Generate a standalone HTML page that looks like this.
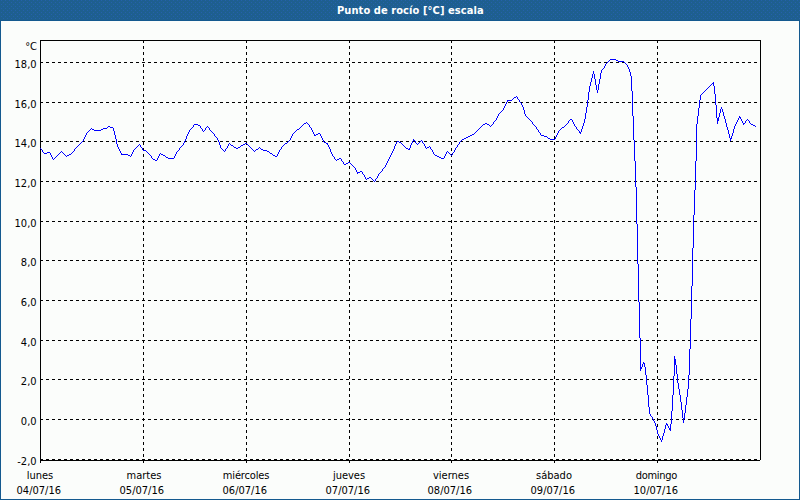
<!DOCTYPE html>
<html><head><meta charset="utf-8"><title>Punto de rocío</title>
<style>
html,body{margin:0;padding:0;}
body{width:800px;height:500px;overflow:hidden;background:#fbfdfb;position:relative;font-family:"DejaVu Sans Condensed", "DejaVu Sans", sans-serif;}
#ttl{position:absolute;left:337px;top:4px;letter-spacing:0.08px;color:#fff;font-weight:bold;font-size:11.0px;line-height:14px;white-space:nowrap;}
#bl{position:absolute;left:0;top:21px;width:1px;height:479px;background:#14598f;}
#br{position:absolute;left:799px;top:21px;width:1px;height:479px;background:#14598f;}
#bb{position:absolute;left:0;top:499px;width:800px;height:1px;background:#14598f;}
svg{position:absolute;left:0;top:0;}
svg text{font-family:"DejaVu Sans Condensed", "DejaVu Sans", sans-serif;font-size:11.0px;fill:#000;}
</style></head><body>
<svg id="hdrs" width="800" height="21" style="position:absolute;left:0;top:0"><defs><pattern id="dp" width="4" height="4" patternUnits="userSpaceOnUse"><rect width="4" height="4" fill="#1e5f8f"/><rect x="1" y="0" width="1" height="1" fill="#2561ac"/><rect x="3" y="2" width="1" height="1" fill="#2561ac"/></pattern></defs><rect width="800" height="20" fill="url(#dp)"/><rect y="20" width="800" height="1" fill="#14598f"/></svg><div id="ttl">Punto de rocío [°C] escala</div>
<svg width="800" height="500" viewBox="0 0 800 500">
<g shape-rendering="crispEdges">
<line x1="40" y1="62.5" x2="760" y2="62.5" stroke="#000" stroke-dasharray="3 3"/>
<line x1="40" y1="102.5" x2="760" y2="102.5" stroke="#000" stroke-dasharray="3 3"/>
<line x1="40" y1="141.5" x2="760" y2="141.5" stroke="#000" stroke-dasharray="3 3"/>
<line x1="40" y1="181.5" x2="760" y2="181.5" stroke="#000" stroke-dasharray="3 3"/>
<line x1="40" y1="221.5" x2="760" y2="221.5" stroke="#000" stroke-dasharray="3 3"/>
<line x1="40" y1="260.5" x2="760" y2="260.5" stroke="#000" stroke-dasharray="3 3"/>
<line x1="40" y1="300.5" x2="760" y2="300.5" stroke="#000" stroke-dasharray="3 3"/>
<line x1="40" y1="340.5" x2="760" y2="340.5" stroke="#000" stroke-dasharray="3 3"/>
<line x1="40" y1="379.5" x2="760" y2="379.5" stroke="#000" stroke-dasharray="3 3"/>
<line x1="40" y1="419.5" x2="760" y2="419.5" stroke="#000" stroke-dasharray="3 3"/>
<line x1="40" y1="459.5" x2="760" y2="459.5" stroke="#000" stroke-dasharray="3 3"/>
<line x1="143.5" y1="40" x2="143.5" y2="463" stroke="#000" stroke-dasharray="3 3"/>
<line x1="246.5" y1="40" x2="246.5" y2="463" stroke="#000" stroke-dasharray="3 3"/>
<line x1="349.5" y1="40" x2="349.5" y2="463" stroke="#000" stroke-dasharray="3 3"/>
<line x1="451.5" y1="40" x2="451.5" y2="463" stroke="#000" stroke-dasharray="3 3"/>
<line x1="554.5" y1="40" x2="554.5" y2="463" stroke="#000" stroke-dasharray="3 3"/>
<line x1="657.5" y1="40" x2="657.5" y2="463" stroke="#000" stroke-dasharray="3 3"/>
<path d="M40.5 463V40.5H760.5V460M40 460.5H760" fill="none" stroke="#000"/>
</g>
<path d="M610 59.5h6M609 60.5h1M616 60.5h2M608 61.5h1M618 61.5h6M607 62.5h1M624 62.5h1M606 63.5h1M625 63.5h1M605 64.5h1M626 64.5h1M605 65.5h1M627 65.5h1M604 66.5h1M627 66.5h1M604 67.5h1M628 67.5h1M603 68.5h1M628 68.5h1M602 69.5h1M629 69.5h1M601 70.5h1M629 70.5h1M593 71.5h1M601 71.5h1M629 71.5h1M593 72.5h1M601 72.5h1M630 72.5h1M593 73.5h1M600 73.5h1M630 73.5h1M592 74.5h1M594 74.5h1M600 74.5h1M630 74.5h1M592 75.5h1M594 75.5h1M600 75.5h1M630 75.5h1M592 76.5h1M594 76.5h1M600 76.5h1M631 76.5h1M592 77.5h1M594 77.5h1M600 77.5h1M631 77.5h1M591 78.5h1M594 78.5h1M600 78.5h1M631 78.5h1M591 79.5h1M595 79.5h1M599 79.5h1M631 79.5h1M591 80.5h1M595 80.5h1M599 80.5h1M631 80.5h1M591 81.5h1M595 81.5h1M599 81.5h1M631 81.5h1M590 82.5h1M595 82.5h1M599 82.5h1M631 82.5h1M713 82.5h1M590 83.5h1M595 83.5h1M599 83.5h1M631 83.5h1M712 83.5h2M590 84.5h1M595 84.5h1M598 84.5h1M631 84.5h1M711 84.5h1M713 84.5h1M590 85.5h1M596 85.5h1M598 85.5h1M631 85.5h1M710 85.5h1M713 85.5h1M589 86.5h1M596 86.5h1M598 86.5h1M631 86.5h1M709 86.5h1M714 86.5h1M589 87.5h1M596 87.5h1M598 87.5h1M631 87.5h1M708 87.5h1M714 87.5h1M589 88.5h1M596 88.5h1M598 88.5h1M631 88.5h1M707 88.5h1M714 88.5h1M589 89.5h1M596 89.5h1M598 89.5h1M631 89.5h1M706 89.5h1M714 89.5h1M589 90.5h1M597 90.5h1M631 90.5h1M705 90.5h1M714 90.5h1M589 91.5h1M597 91.5h1M632 91.5h1M704 91.5h1M714 91.5h1M588 92.5h1M597 92.5h1M632 92.5h1M703 92.5h1M714 92.5h1M588 93.5h1M632 93.5h1M702 93.5h1M714 93.5h1M588 94.5h1M632 94.5h1M701 94.5h1M715 94.5h1M588 95.5h1M632 95.5h1M700 95.5h1M715 95.5h1M516 96.5h1M588 96.5h1M632 96.5h1M700 96.5h1M715 96.5h1M514 97.5h2M517 97.5h1M588 97.5h1M632 97.5h1M700 97.5h1M715 97.5h1M513 98.5h1M517 98.5h1M588 98.5h1M632 98.5h1M700 98.5h1M715 98.5h1M512 99.5h1M518 99.5h1M588 99.5h1M632 99.5h1M700 99.5h1M715 99.5h1M507 100.5h5M519 100.5h1M587 100.5h1M632 100.5h1M699 100.5h1M715 100.5h1M507 101.5h1M519 101.5h1M587 101.5h1M632 101.5h1M699 101.5h1M715 101.5h1M506 102.5h1M520 102.5h1M587 102.5h1M632 102.5h1M699 102.5h1M715 102.5h1M506 103.5h1M521 103.5h1M587 103.5h1M632 103.5h1M699 103.5h1M715 103.5h1M505 104.5h1M521 104.5h1M587 104.5h1M632 104.5h1M699 104.5h1M715 104.5h1M505 105.5h1M522 105.5h1M587 105.5h1M632 105.5h1M699 105.5h1M716 105.5h1M504 106.5h1M522 106.5h1M587 106.5h1M632 106.5h1M699 106.5h1M716 106.5h1M504 107.5h1M523 107.5h1M586 107.5h1M632 107.5h1M699 107.5h1M716 107.5h1M721 107.5h1M503 108.5h1M523 108.5h1M586 108.5h1M632 108.5h1M698 108.5h1M716 108.5h1M721 108.5h1M503 109.5h1M523 109.5h1M586 109.5h1M632 109.5h1M698 109.5h1M716 109.5h1M720 109.5h1M722 109.5h1M502 110.5h1M524 110.5h1M586 110.5h1M632 110.5h1M698 110.5h1M716 110.5h1M720 110.5h1M722 110.5h1M501 111.5h1M524 111.5h1M586 111.5h1M632 111.5h1M698 111.5h1M716 111.5h1M720 111.5h1M722 111.5h1M500 112.5h1M524 112.5h1M586 112.5h1M632 112.5h1M698 112.5h1M716 112.5h1M720 112.5h1M723 112.5h1M499 113.5h1M524 113.5h1M585 113.5h1M632 113.5h1M698 113.5h1M716 113.5h1M719 113.5h1M723 113.5h1M498 114.5h1M525 114.5h1M585 114.5h1M632 114.5h1M698 114.5h1M716 114.5h1M719 114.5h1M723 114.5h1M498 115.5h1M525 115.5h1M585 115.5h1M632 115.5h1M698 115.5h1M716 115.5h1M719 115.5h1M723 115.5h1M497 116.5h1M526 116.5h1M585 116.5h1M633 116.5h1M697 116.5h1M716 116.5h1M719 116.5h1M724 116.5h1M739 116.5h1M497 117.5h1M527 117.5h1M585 117.5h1M633 117.5h1M697 117.5h1M716 117.5h1M718 117.5h1M724 117.5h1M739 117.5h2M496 118.5h1M528 118.5h1M585 118.5h1M633 118.5h1M697 118.5h1M717 118.5h2M724 118.5h1M738 118.5h1M740 118.5h1M496 119.5h1M529 119.5h1M570 119.5h2M584 119.5h1M633 119.5h1M697 119.5h1M717 119.5h2M725 119.5h1M738 119.5h1M741 119.5h1M747 119.5h1M495 120.5h1M530 120.5h1M569 120.5h1M572 120.5h1M584 120.5h1M633 120.5h1M697 120.5h1M717 120.5h2M725 120.5h1M737 120.5h1M741 120.5h1M746 120.5h1M748 120.5h1M494 121.5h1M531 121.5h1M568 121.5h1M572 121.5h1M584 121.5h1M633 121.5h1M697 121.5h1M717 121.5h1M725 121.5h1M737 121.5h1M742 121.5h1M745 121.5h1M749 121.5h1M306 122.5h1M493 122.5h1M532 122.5h1M568 122.5h1M573 122.5h1M584 122.5h1M633 122.5h1M697 122.5h1M717 122.5h1M725 122.5h1M736 122.5h1M742 122.5h1M745 122.5h1M749 122.5h1M304 123.5h2M307 123.5h1M485 123.5h2M493 123.5h1M532 123.5h1M567 123.5h1M573 123.5h1M583 123.5h1M633 123.5h1M697 123.5h1M717 123.5h1M726 123.5h1M736 123.5h1M743 123.5h2M750 123.5h1M194 124.5h4M303 124.5h1M308 124.5h1M483 124.5h2M487 124.5h2M492 124.5h1M533 124.5h1M566 124.5h1M574 124.5h1M583 124.5h1M633 124.5h1M696 124.5h1M726 124.5h1M735 124.5h1M743 124.5h1M751 124.5h2M193 125.5h1M198 125.5h2M302 125.5h1M309 125.5h1M482 125.5h1M489 125.5h1M491 125.5h1M534 125.5h1M565 125.5h1M574 125.5h1M583 125.5h1M633 125.5h1M696 125.5h1M726 125.5h1M735 125.5h1M753 125.5h2M108 126.5h2M193 126.5h1M200 126.5h1M207 126.5h1M301 126.5h1M309 126.5h1M481 126.5h1M490 126.5h1M535 126.5h1M564 126.5h1M575 126.5h1M582 126.5h1M633 126.5h1M696 126.5h1M726 126.5h1M734 126.5h1M755 126.5h1M107 127.5h1M110 127.5h3M192 127.5h1M200 127.5h1M206 127.5h1M208 127.5h1M300 127.5h1M310 127.5h1M480 127.5h1M536 127.5h1M562 127.5h2M576 127.5h1M582 127.5h1M633 127.5h1M696 127.5h1M727 127.5h1M734 127.5h1M91 128.5h1M103 128.5h4M113 128.5h1M191 128.5h1M201 128.5h1M205 128.5h1M209 128.5h1M299 128.5h1M311 128.5h1M479 128.5h1M536 128.5h1M561 128.5h1M576 128.5h1M582 128.5h1M633 128.5h1M696 128.5h1M727 128.5h1M734 128.5h1M90 129.5h1M92 129.5h2M101 129.5h2M113 129.5h1M190 129.5h1M202 129.5h1M205 129.5h1M209 129.5h1M297 129.5h2M311 129.5h1M478 129.5h1M537 129.5h1M560 129.5h1M577 129.5h1M581 129.5h1M633 129.5h1M696 129.5h1M727 129.5h1M733 129.5h1M89 130.5h1M94 130.5h7M113 130.5h1M189 130.5h1M202 130.5h1M204 130.5h1M210 130.5h1M296 130.5h1M312 130.5h1M477 130.5h1M538 130.5h1M559 130.5h1M578 130.5h1M581 130.5h1M633 130.5h1M696 130.5h1M728 130.5h1M733 130.5h1M88 131.5h1M114 131.5h1M189 131.5h1M203 131.5h1M211 131.5h1M295 131.5h1M312 131.5h1M476 131.5h1M538 131.5h1M558 131.5h1M579 131.5h1M581 131.5h1M633 131.5h1M696 131.5h1M728 131.5h1M733 131.5h1M87 132.5h1M114 132.5h1M188 132.5h1M212 132.5h1M294 132.5h1M313 132.5h1M475 132.5h1M539 132.5h1M558 132.5h1M579 132.5h2M633 132.5h1M696 132.5h1M728 132.5h1M733 132.5h1M86 133.5h1M114 133.5h1M188 133.5h1M213 133.5h1M293 133.5h1M313 133.5h1M318 133.5h2M474 133.5h1M540 133.5h1M557 133.5h1M580 133.5h1M633 133.5h1M696 133.5h1M728 133.5h1M732 133.5h1M86 134.5h1M114 134.5h1M187 134.5h1M214 134.5h1M292 134.5h1M314 134.5h1M316 134.5h2M320 134.5h1M472 134.5h2M540 134.5h1M557 134.5h1M633 134.5h1M696 134.5h1M729 134.5h1M732 134.5h1M85 135.5h1M115 135.5h1M187 135.5h1M214 135.5h1M292 135.5h1M314 135.5h2M320 135.5h1M470 135.5h2M541 135.5h3M556 135.5h1M633 135.5h1M696 135.5h1M729 135.5h1M732 135.5h1M85 136.5h1M115 136.5h1M186 136.5h1M215 136.5h1M291 136.5h1M321 136.5h1M468 136.5h2M544 136.5h3M556 136.5h1M633 136.5h1M696 136.5h1M729 136.5h1M731 136.5h1M84 137.5h1M115 137.5h1M186 137.5h1M216 137.5h1M291 137.5h1M321 137.5h1M466 137.5h2M547 137.5h1M555 137.5h1M633 137.5h1M696 137.5h1M729 137.5h1M731 137.5h1M84 138.5h1M115 138.5h1M186 138.5h1M217 138.5h1M290 138.5h1M322 138.5h1M464 138.5h2M548 138.5h2M555 138.5h1M633 138.5h1M696 138.5h1M730 138.5h2M83 139.5h1M116 139.5h1M185 139.5h1M217 139.5h1M290 139.5h1M322 139.5h1M413 139.5h1M462 139.5h2M550 139.5h5M633 139.5h1M696 139.5h1M730 139.5h1M83 140.5h1M116 140.5h1M185 140.5h1M218 140.5h1M289 140.5h1M323 140.5h1M413 140.5h2M421 140.5h1M461 140.5h1M634 140.5h1M696 140.5h1M730 140.5h1M82 141.5h1M116 141.5h1M184 141.5h1M218 141.5h1M288 141.5h1M323 141.5h1M397 141.5h2M412 141.5h1M415 141.5h1M420 141.5h1M422 141.5h1M460 141.5h1M634 141.5h1M696 141.5h1M81 142.5h1M116 142.5h1M184 142.5h1M219 142.5h1M287 142.5h1M324 142.5h2M396 142.5h1M399 142.5h2M412 142.5h1M415 142.5h1M419 142.5h1M422 142.5h1M459 142.5h1M634 142.5h1M696 142.5h1M80 143.5h1M116 143.5h1M183 143.5h1M219 143.5h1M229 143.5h1M245 143.5h2M285 143.5h2M326 143.5h2M396 143.5h1M401 143.5h1M411 143.5h1M416 143.5h1M418 143.5h1M423 143.5h1M459 143.5h1M634 143.5h1M696 143.5h1M79 144.5h1M117 144.5h1M139 144.5h1M183 144.5h1M219 144.5h1M228 144.5h1M230 144.5h1M243 144.5h2M247 144.5h1M284 144.5h1M327 144.5h1M395 144.5h1M402 144.5h1M411 144.5h1M417 144.5h1M424 144.5h1M458 144.5h1M634 144.5h1M696 144.5h1M78 145.5h1M117 145.5h1M138 145.5h1M140 145.5h1M182 145.5h1M220 145.5h1M228 145.5h1M231 145.5h2M241 145.5h2M248 145.5h1M283 145.5h1M328 145.5h1M395 145.5h1M403 145.5h1M410 145.5h1M424 145.5h1M457 145.5h1M634 145.5h1M696 145.5h1M77 146.5h1M117 146.5h1M137 146.5h1M140 146.5h1M181 146.5h1M220 146.5h1M227 146.5h1M233 146.5h1M240 146.5h1M249 146.5h1M282 146.5h1M328 146.5h1M394 146.5h1M404 146.5h1M410 146.5h1M425 146.5h1M429 146.5h1M457 146.5h1M634 146.5h1M696 146.5h1M76 147.5h1M118 147.5h1M136 147.5h1M141 147.5h1M180 147.5h1M220 147.5h1M227 147.5h1M234 147.5h2M238 147.5h2M250 147.5h1M259 147.5h1M281 147.5h1M329 147.5h1M394 147.5h1M405 147.5h1M410 147.5h1M425 147.5h1M427 147.5h2M430 147.5h1M456 147.5h1M634 147.5h1M696 147.5h1M40 148.5h1M75 148.5h1M118 148.5h1M135 148.5h1M142 148.5h1M179 148.5h1M221 148.5h1M226 148.5h1M236 148.5h2M251 148.5h1M258 148.5h1M260 148.5h1M281 148.5h1M329 148.5h1M394 148.5h1M406 148.5h2M409 148.5h1M426 148.5h1M430 148.5h1M455 148.5h1M634 148.5h1M696 148.5h1M41 149.5h1M74 149.5h1M119 149.5h1M134 149.5h1M142 149.5h1M179 149.5h1M222 149.5h1M225 149.5h1M252 149.5h1M256 149.5h2M261 149.5h2M280 149.5h1M330 149.5h1M393 149.5h1M408 149.5h2M431 149.5h1M455 149.5h1M634 149.5h1M696 149.5h1M42 150.5h1M74 150.5h1M119 150.5h1M133 150.5h1M143 150.5h3M178 150.5h1M223 150.5h1M225 150.5h1M253 150.5h1M255 150.5h1M263 150.5h4M279 150.5h1M330 150.5h1M393 150.5h1M432 150.5h1M454 150.5h1M634 150.5h1M696 150.5h1M42 151.5h1M61 151.5h1M73 151.5h1M120 151.5h1M133 151.5h1M146 151.5h1M177 151.5h1M224 151.5h1M254 151.5h1M267 151.5h2M279 151.5h1M330 151.5h1M392 151.5h1M432 151.5h1M447 151.5h1M454 151.5h1M634 151.5h1M696 151.5h1M43 152.5h1M47 152.5h3M60 152.5h1M62 152.5h1M72 152.5h1M120 152.5h1M132 152.5h1M147 152.5h1M176 152.5h1M269 152.5h1M278 152.5h1M331 152.5h1M392 152.5h1M433 152.5h1M446 152.5h1M448 152.5h1M453 152.5h1M634 152.5h1M696 152.5h1M44 153.5h3M50 153.5h1M59 153.5h1M63 153.5h1M71 153.5h1M121 153.5h1M132 153.5h1M148 153.5h1M160 153.5h1M176 153.5h1M270 153.5h2M278 153.5h1M331 153.5h1M391 153.5h1M433 153.5h1M446 153.5h1M449 153.5h1M452 153.5h1M634 153.5h1M696 153.5h1M50 154.5h1M58 154.5h1M64 154.5h1M69 154.5h2M121 154.5h7M131 154.5h1M149 154.5h1M159 154.5h1M161 154.5h2M175 154.5h1M272 154.5h1M277 154.5h1M332 154.5h1M391 154.5h1M434 154.5h1M445 154.5h1M450 154.5h1M452 154.5h1M634 154.5h1M696 154.5h1M51 155.5h1M57 155.5h1M65 155.5h1M67 155.5h2M128 155.5h2M131 155.5h1M150 155.5h1M159 155.5h1M163 155.5h2M175 155.5h1M273 155.5h2M277 155.5h1M332 155.5h1M390 155.5h1M435 155.5h2M445 155.5h1M451 155.5h1M634 155.5h1M696 155.5h1M51 156.5h1M56 156.5h1M66 156.5h1M130 156.5h1M151 156.5h1M158 156.5h1M165 156.5h1M174 156.5h1M275 156.5h2M333 156.5h1M390 156.5h1M437 156.5h2M444 156.5h1M634 156.5h1M696 156.5h1M52 157.5h1M55 157.5h1M151 157.5h1M158 157.5h1M166 157.5h2M174 157.5h1M334 157.5h1M389 157.5h1M439 157.5h2M444 157.5h1M634 157.5h1M696 157.5h1M52 158.5h1M54 158.5h1M152 158.5h1M157 158.5h1M168 158.5h6M334 158.5h1M339 158.5h2M389 158.5h1M441 158.5h3M634 158.5h1M696 158.5h1M53 159.5h1M153 159.5h2M157 159.5h1M335 159.5h1M337 159.5h2M341 159.5h1M388 159.5h1M634 159.5h1M696 159.5h1M155 160.5h2M336 160.5h1M341 160.5h1M388 160.5h1M634 160.5h1M696 160.5h1M342 161.5h1M387 161.5h1M635 161.5h1M695 161.5h1M343 162.5h1M348 162.5h2M387 162.5h1M635 162.5h1M695 162.5h1M343 163.5h1M346 163.5h2M350 163.5h1M386 163.5h1M635 163.5h1M695 163.5h1M344 164.5h2M351 164.5h1M386 164.5h1M635 164.5h1M695 164.5h1M352 165.5h1M385 165.5h1M635 165.5h1M695 165.5h1M353 166.5h1M385 166.5h1M635 166.5h1M695 166.5h1M354 167.5h1M384 167.5h1M635 167.5h1M695 167.5h1M355 168.5h1M383 168.5h1M635 168.5h1M695 168.5h1M355 169.5h1M382 169.5h1M635 169.5h1M695 169.5h1M356 170.5h1M382 170.5h1M635 170.5h1M695 170.5h1M356 171.5h1M360 171.5h2M381 171.5h1M635 171.5h1M695 171.5h1M357 172.5h3M362 172.5h1M380 172.5h1M635 172.5h1M695 172.5h1M357 173.5h1M362 173.5h1M379 173.5h1M635 173.5h1M695 173.5h1M363 174.5h1M378 174.5h1M635 174.5h1M695 174.5h1M364 175.5h1M378 175.5h1M635 175.5h1M695 175.5h1M364 176.5h1M377 176.5h1M635 176.5h1M695 176.5h1M365 177.5h1M369 177.5h2M377 177.5h1M635 177.5h1M695 177.5h1M365 178.5h1M367 178.5h2M371 178.5h1M376 178.5h1M635 178.5h1M695 178.5h1M366 179.5h1M372 179.5h1M375 179.5h1M635 179.5h1M695 179.5h1M373 180.5h1M375 180.5h1M635 180.5h1M695 180.5h1M374 181.5h1M635 181.5h1M695 181.5h1M635 182.5h1M695 182.5h1M635 183.5h1M695 183.5h1M635 184.5h1M695 184.5h1M635 185.5h1M695 185.5h1M635 186.5h1M695 186.5h1M636 187.5h1M695 187.5h1M636 188.5h1M695 188.5h1M636 189.5h1M695 189.5h1M636 190.5h1M694 190.5h1M636 191.5h1M694 191.5h1M636 192.5h1M694 192.5h1M636 193.5h1M694 193.5h1M636 194.5h1M694 194.5h1M636 195.5h1M694 195.5h1M636 196.5h1M694 196.5h1M636 197.5h1M694 197.5h1M636 198.5h1M694 198.5h1M636 199.5h1M694 199.5h1M636 200.5h1M694 200.5h1M636 201.5h1M694 201.5h1M636 202.5h1M694 202.5h1M636 203.5h1M694 203.5h1M636 204.5h1M694 204.5h1M636 205.5h1M694 205.5h1M636 206.5h1M694 206.5h1M636 207.5h1M694 207.5h1M636 208.5h1M694 208.5h1M636 209.5h1M694 209.5h1M636 210.5h1M694 210.5h1M636 211.5h1M694 211.5h1M636 212.5h1M694 212.5h1M636 213.5h1M694 213.5h1M636 214.5h1M694 214.5h1M636 215.5h1M693 215.5h1M636 216.5h1M693 216.5h1M636 217.5h1M693 217.5h1M636 218.5h1M693 218.5h1M636 219.5h1M693 219.5h1M636 220.5h1M693 220.5h1M636 221.5h1M693 221.5h1M636 222.5h1M693 222.5h1M636 223.5h1M693 223.5h1M637 224.5h1M693 224.5h1M637 225.5h1M693 225.5h1M637 226.5h1M693 226.5h1M637 227.5h1M693 227.5h1M637 228.5h1M693 228.5h1M637 229.5h1M693 229.5h1M637 230.5h1M693 230.5h1M637 231.5h1M693 231.5h1M637 232.5h1M693 232.5h1M637 233.5h1M693 233.5h1M637 234.5h1M693 234.5h1M637 235.5h1M693 235.5h1M637 236.5h1M693 236.5h1M637 237.5h1M693 237.5h1M637 238.5h1M693 238.5h1M637 239.5h1M693 239.5h1M637 240.5h1M693 240.5h1M637 241.5h1M693 241.5h1M637 242.5h1M693 242.5h1M637 243.5h1M693 243.5h1M637 244.5h1M693 244.5h1M637 245.5h1M693 245.5h1M637 246.5h1M693 246.5h1M637 247.5h1M693 247.5h1M637 248.5h1M692 248.5h1M637 249.5h1M692 249.5h1M637 250.5h1M692 250.5h1M637 251.5h1M692 251.5h1M637 252.5h1M692 252.5h1M637 253.5h1M692 253.5h1M637 254.5h1M692 254.5h1M637 255.5h1M692 255.5h1M637 256.5h1M692 256.5h1M637 257.5h1M692 257.5h1M637 258.5h1M692 258.5h1M637 259.5h1M692 259.5h1M637 260.5h1M692 260.5h1M637 261.5h1M692 261.5h1M637 262.5h1M692 262.5h1M637 263.5h1M692 263.5h1M638 264.5h1M692 264.5h1M638 265.5h1M692 265.5h1M638 266.5h1M692 266.5h1M638 267.5h1M692 267.5h1M638 268.5h1M692 268.5h1M638 269.5h1M692 269.5h1M638 270.5h1M692 270.5h1M638 271.5h1M692 271.5h1M638 272.5h1M692 272.5h1M638 273.5h1M692 273.5h1M638 274.5h1M692 274.5h1M638 275.5h1M692 275.5h1M638 276.5h1M692 276.5h1M638 277.5h1M692 277.5h1M638 278.5h1M692 278.5h1M638 279.5h1M692 279.5h1M638 280.5h1M692 280.5h1M638 281.5h1M692 281.5h1M638 282.5h1M692 282.5h1M638 283.5h1M692 283.5h1M638 284.5h1M692 284.5h1M638 285.5h1M692 285.5h1M638 286.5h1M691 286.5h1M638 287.5h1M691 287.5h1M638 288.5h1M691 288.5h1M638 289.5h1M691 289.5h1M638 290.5h1M691 290.5h1M638 291.5h1M691 291.5h1M638 292.5h1M691 292.5h1M638 293.5h1M691 293.5h1M638 294.5h1M691 294.5h1M638 295.5h1M691 295.5h1M638 296.5h1M691 296.5h1M638 297.5h1M691 297.5h1M638 298.5h1M691 298.5h1M638 299.5h1M691 299.5h1M638 300.5h1M691 300.5h1M638 301.5h1M691 301.5h1M639 302.5h1M691 302.5h1M639 303.5h1M691 303.5h1M639 304.5h1M691 304.5h1M639 305.5h1M691 305.5h1M639 306.5h1M691 306.5h1M639 307.5h1M691 307.5h1M639 308.5h1M691 308.5h1M639 309.5h1M691 309.5h1M639 310.5h1M691 310.5h1M639 311.5h1M691 311.5h1M639 312.5h1M691 312.5h1M639 313.5h1M691 313.5h1M639 314.5h1M691 314.5h1M639 315.5h1M691 315.5h1M639 316.5h1M691 316.5h1M639 317.5h1M691 317.5h1M639 318.5h1M691 318.5h1M639 319.5h1M690 319.5h1M639 320.5h1M690 320.5h1M639 321.5h1M690 321.5h1M639 322.5h1M690 322.5h1M639 323.5h1M690 323.5h1M639 324.5h1M690 324.5h1M639 325.5h1M690 325.5h1M639 326.5h1M690 326.5h1M639 327.5h1M690 327.5h1M639 328.5h1M690 328.5h1M639 329.5h1M690 329.5h1M639 330.5h1M690 330.5h1M639 331.5h1M690 331.5h1M639 332.5h1M690 332.5h1M639 333.5h1M690 333.5h1M639 334.5h1M690 334.5h1M639 335.5h1M690 335.5h1M639 336.5h1M690 336.5h1M639 337.5h1M690 337.5h1M640 338.5h1M690 338.5h1M640 339.5h1M690 339.5h1M640 340.5h1M690 340.5h1M640 341.5h1M690 341.5h1M640 342.5h1M690 342.5h1M640 343.5h1M690 343.5h1M640 344.5h1M690 344.5h1M640 345.5h1M690 345.5h1M640 346.5h1M690 346.5h1M640 347.5h1M690 347.5h1M640 348.5h1M690 348.5h1M640 349.5h1M689 349.5h1M640 350.5h1M689 350.5h1M640 351.5h1M689 351.5h1M640 352.5h1M689 352.5h1M640 353.5h1M689 353.5h1M640 354.5h1M689 354.5h1M640 355.5h1M689 355.5h1M640 356.5h1M674 356.5h1M689 356.5h1M640 357.5h1M674 357.5h1M689 357.5h1M640 358.5h1M674 358.5h1M689 358.5h1M640 359.5h1M674 359.5h2M689 359.5h1M640 360.5h1M674 360.5h2M689 360.5h1M640 361.5h1M674 361.5h2M689 361.5h1M640 362.5h1M643 362.5h1M674 362.5h2M689 362.5h1M640 363.5h1M643 363.5h2M674 363.5h2M689 363.5h1M640 364.5h1M642 364.5h1M644 364.5h1M674 364.5h2M689 364.5h1M640 365.5h1M642 365.5h1M644 365.5h1M674 365.5h1M676 365.5h1M689 365.5h1M640 366.5h1M642 366.5h1M644 366.5h1M674 366.5h1M676 366.5h1M689 366.5h1M640 367.5h2M645 367.5h1M674 367.5h1M676 367.5h1M689 367.5h1M640 368.5h2M645 368.5h1M674 368.5h1M676 368.5h1M689 368.5h1M640 369.5h1M645 369.5h1M674 369.5h1M676 369.5h1M689 369.5h1M640 370.5h1M645 370.5h1M674 370.5h1M676 370.5h1M689 370.5h1M645 371.5h1M674 371.5h1M676 371.5h1M689 371.5h1M645 372.5h1M674 372.5h1M676 372.5h1M689 372.5h1M645 373.5h1M674 373.5h1M676 373.5h1M689 373.5h1M645 374.5h1M674 374.5h1M677 374.5h1M689 374.5h1M646 375.5h1M674 375.5h1M677 375.5h1M688 375.5h1M646 376.5h1M673 376.5h1M677 376.5h1M688 376.5h1M646 377.5h1M673 377.5h1M677 377.5h1M688 377.5h1M646 378.5h1M673 378.5h1M677 378.5h1M688 378.5h1M646 379.5h1M673 379.5h1M677 379.5h1M688 379.5h1M646 380.5h1M673 380.5h1M677 380.5h1M688 380.5h1M646 381.5h1M673 381.5h1M677 381.5h1M688 381.5h1M646 382.5h1M673 382.5h1M677 382.5h1M688 382.5h1M646 383.5h1M673 383.5h1M678 383.5h1M688 383.5h1M646 384.5h1M673 384.5h1M678 384.5h1M688 384.5h1M647 385.5h1M673 385.5h1M678 385.5h1M688 385.5h1M647 386.5h1M673 386.5h1M678 386.5h1M688 386.5h1M647 387.5h1M673 387.5h1M678 387.5h1M688 387.5h1M647 388.5h1M673 388.5h1M678 388.5h1M688 388.5h1M647 389.5h1M673 389.5h1M679 389.5h1M687 389.5h1M647 390.5h1M673 390.5h1M679 390.5h1M687 390.5h1M647 391.5h1M673 391.5h1M679 391.5h1M687 391.5h1M647 392.5h1M673 392.5h1M679 392.5h1M687 392.5h1M647 393.5h1M673 393.5h1M679 393.5h1M687 393.5h1M647 394.5h1M673 394.5h1M679 394.5h1M687 394.5h1M648 395.5h1M672 395.5h1M680 395.5h1M687 395.5h1M648 396.5h1M672 396.5h1M680 396.5h1M687 396.5h1M648 397.5h1M672 397.5h1M680 397.5h1M686 397.5h1M648 398.5h1M672 398.5h1M680 398.5h1M686 398.5h1M648 399.5h1M672 399.5h1M680 399.5h1M686 399.5h1M648 400.5h1M672 400.5h1M680 400.5h1M686 400.5h1M648 401.5h1M672 401.5h1M680 401.5h1M686 401.5h1M648 402.5h1M672 402.5h1M681 402.5h1M686 402.5h1M648 403.5h1M672 403.5h1M681 403.5h1M686 403.5h1M648 404.5h1M672 404.5h1M681 404.5h1M686 404.5h1M648 405.5h1M672 405.5h1M681 405.5h1M685 405.5h1M648 406.5h1M672 406.5h1M681 406.5h1M685 406.5h1M649 407.5h1M672 407.5h1M681 407.5h1M685 407.5h1M649 408.5h1M672 408.5h1M681 408.5h1M685 408.5h1M649 409.5h1M672 409.5h1M681 409.5h1M685 409.5h1M649 410.5h1M672 410.5h1M682 410.5h1M685 410.5h1M649 411.5h1M671 411.5h1M682 411.5h1M685 411.5h1M649 412.5h1M671 412.5h1M682 412.5h1M685 412.5h1M649 413.5h1M671 413.5h1M682 413.5h1M684 413.5h1M650 414.5h1M671 414.5h1M682 414.5h1M684 414.5h1M650 415.5h1M671 415.5h1M682 415.5h1M684 415.5h1M651 416.5h1M671 416.5h1M682 416.5h1M684 416.5h1M652 417.5h1M671 417.5h1M682 417.5h1M684 417.5h1M652 418.5h1M671 418.5h1M683 418.5h2M653 419.5h1M671 419.5h1M683 419.5h1M653 420.5h1M671 420.5h1M683 420.5h1M654 421.5h1M671 421.5h1M683 421.5h1M654 422.5h1M671 422.5h1M683 422.5h1M655 423.5h1M666 423.5h1M671 423.5h1M655 424.5h1M666 424.5h2M670 424.5h1M655 425.5h1M665 425.5h1M667 425.5h1M670 425.5h1M656 426.5h1M665 426.5h1M668 426.5h1M670 426.5h1M656 427.5h1M665 427.5h1M668 427.5h1M670 427.5h1M656 428.5h1M665 428.5h1M669 428.5h2M656 429.5h1M664 429.5h1M669 429.5h2M657 430.5h1M664 430.5h1M670 430.5h1M657 431.5h1M664 431.5h1M657 432.5h1M664 432.5h1M657 433.5h1M663 433.5h1M658 434.5h1M663 434.5h1M658 435.5h1M663 435.5h1M659 436.5h1M662 436.5h1M659 437.5h1M662 437.5h1M660 438.5h1M662 438.5h1M660 439.5h1M662 439.5h1M661 440.5h1M661 441.5h1" fill="none" stroke="#0000ff" stroke-width="1" shape-rendering="crispEdges"/>
<text x="36.6" y="68" text-anchor="end">18,0</text>
<text x="36.6" y="108" text-anchor="end">16,0</text>
<text x="36.6" y="147" text-anchor="end">14,0</text>
<text x="36.6" y="187" text-anchor="end">12,0</text>
<text x="36.6" y="227" text-anchor="end">10,0</text>
<text x="36.6" y="266" text-anchor="end">8,0</text>
<text x="36.6" y="306" text-anchor="end">6,0</text>
<text x="36.6" y="346" text-anchor="end">4,0</text>
<text x="36.6" y="385" text-anchor="end">2,0</text>
<text x="36.6" y="425" text-anchor="end">0,0</text>
<text x="36.6" y="465" text-anchor="end">-2,0</text>
<text x="37" y="50" text-anchor="end">°C</text>
<text x="40" y="479" text-anchor="middle">lunes</text>
<text x="38.8" y="494" text-anchor="middle">04/07/16</text>
<text x="144" y="479" text-anchor="middle">martes</text>
<text x="141.8" y="494" text-anchor="middle">05/07/16</text>
<text x="246" y="479" text-anchor="middle" letter-spacing="-0.17">miércoles</text>
<text x="244.8" y="494" text-anchor="middle">06/07/16</text>
<text x="349" y="479" text-anchor="middle">jueves</text>
<text x="347.8" y="494" text-anchor="middle">07/07/16</text>
<text x="451" y="479" text-anchor="middle">viernes</text>
<text x="449.8" y="494" text-anchor="middle">08/07/16</text>
<text x="554" y="479" text-anchor="middle">sábado</text>
<text x="552.8" y="494" text-anchor="middle">09/07/16</text>
<text x="656.4" y="479" text-anchor="middle" letter-spacing="-0.28">domingo</text>
<text x="655.8" y="494" text-anchor="middle">10/07/16</text>
</svg>
<div id="bl"></div><div id="br"></div><div id="bb"></div>
</body></html>
